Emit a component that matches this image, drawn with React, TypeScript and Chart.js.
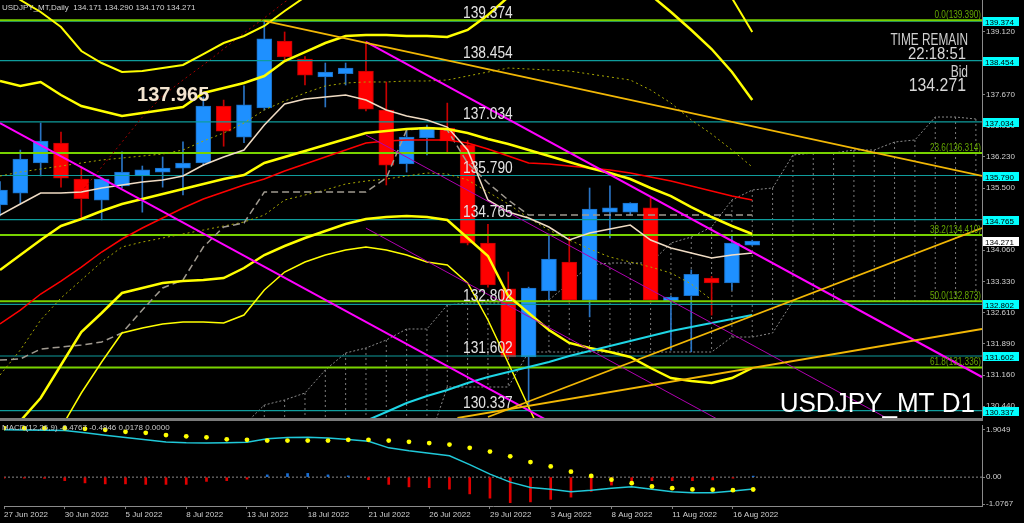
import React, { useEffect, useRef } from "react";
import { Chart, registerables } from "chart.js";

Chart.register(...registerables);

// ---------------- data ----------------
const opens = [135.11,135.38,136.08,136.54,135.71,135.22,135.55,135.78,135.87,135.96,136.08,137.40,136.68,137.36,138.91,138.49,138.08,138.15,138.21,137.31,136.06,136.66,136.89,136.50,134.22,133.16,131.58,133.11,133.78,132.90,134.94,134.94,135.04,132.88,133.00,133.41,133.30,134.171];
const highs = [135.65,136.38,137.01,136.80,135.99,135.73,136.34,136.01,136.22,136.57,137.61,137.54,137.87,139.39,139.12,138.55,138.40,138.40,138.89,137.96,136.85,136.96,137.47,136.60,134.66,133.55,133.20,134.43,134.36,135.50,135.55,135.16,135.27,133.00,133.60,133.45,134.40,134.290];
const lows = [134.85,135.15,135.78,135.52,134.80,134.76,135.50,134.94,135.52,135.34,136.03,136.47,136.55,137.31,138.45,137.89,137.38,137.89,137.29,135.57,135.87,136.27,136.34,134.18,133.20,131.55,130.35,132.90,132.85,132.51,134.34,134.87,132.85,131.74,131.70,132.55,133.13,134.170];
const closes = [135.45,136.17,136.59,135.73,135.25,135.71,135.87,135.92,135.96,136.08,137.40,136.82,137.43,138.96,138.54,138.12,138.19,138.28,137.33,136.03,136.68,136.91,136.59,134.22,133.25,131.58,133.18,133.85,132.90,135.01,135.04,135.15,132.90,132.97,133.50,133.30,134.22,134.271];

const dateTickIdx = [0,3,6,9,12,15,18,21,24,27,30,33,36];
const dateTickLabels = ["27 Jun 2022","30 Jun 2022","5 Jul 2022","8 Jul 2022","13 Jul 2022","18 Jul 2022","21 Jul 2022","26 Jul 2022","29 Jul 2022","3 Aug 2022","8 Aug 2022","11 Aug 2022","16 Aug 2022"];
const priceTicks = [139.120,138.390,137.670,136.950,136.230,135.500,134.780,134.060,133.330,132.610,131.890,131.160,130.440];

const redMA = [132.345,132.669,133.041,133.342,133.667,134.015,134.317,134.572,134.804,135.036,135.245,135.407,135.570,135.709,135.894,136.057,136.219,136.382,136.544,136.590,136.614,136.614,136.614,136.544,136.405,136.243,136.080,136.057,136.010,135.964,135.918,135.848,135.755,135.662,135.546,135.430,135.314,135.222];
const wheatMA = [134.874,135.129,135.384,135.384,135.407,135.500,135.570,135.639,135.686,135.778,136.034,136.219,136.382,136.962,137.449,137.565,137.612,137.658,137.542,137.310,137.171,137.078,136.915,136.382,135.222,134.943,134.804,134.595,134.294,134.456,134.549,134.641,134.294,134.108,133.992,133.876,133.946,133.992];
const bandMid = [133.598,133.946,134.294,134.619,134.781,134.966,135.129,135.245,135.361,135.477,135.593,135.709,135.802,136.080,136.219,136.359,136.498,136.637,136.776,136.823,136.869,136.892,136.869,136.776,136.637,136.521,136.382,136.243,136.103,135.964,135.848,135.709,135.500,135.314,135.059,134.827,134.619,134.433];
const bandUp2 = [137.983,137.867,137.960,137.658,137.403,137.287,137.171,137.240,137.310,137.379,137.704,137.820,137.936,138.098,138.447,138.655,138.864,139.027,139.050,139.050,139.027,139.027,139.004,139.166,139.514,139.932,140.3,140.6,140.8,140.8,140.6,140.3,139.978,139.584,139.166,138.725,138.191,137.542];
const bandUp3 = [140.21,139.862,139.584,139.236,138.679,138.400,138.191,138.215,138.284,138.354,138.609,138.864,139.027,139.259,139.607,139.932,140.3,140.5,140.6,140.7,140.7,140.7,140.7,140.9,141.3,141.9,142.3,142.6,142.8,142.8,142.5,142.0,141.3,140.8,140.4,140.1,139.908,139.120];
const bandLow2 = [128.9,130.094,130.628,131.393,132.159,132.600,133.064,133.180,133.296,133.342,133.366,133.412,133.644,133.946,134.154,134.340,134.502,134.665,134.781,134.827,134.850,134.827,134.758,134.340,133.922,132.994,132.600,132.206,131.905,131.788,131.695,131.579,131.324,131.092,131.022,130.976,131.092,131.324];
const bandLow3Start = 2;
const bandLow3 = [128.96,129.931,130.744,131.463,132.136,132.252,132.345,132.391,132.391,132.368,132.553,133.134,133.551,133.783,133.946,134.062,134.131,134.062,133.946,133.783,133.714,133.296,132.438,131.440,130.419,129.42];
const redDottedStart = 4;
const redDotted = [135.407,135.987,136.567,137.147,137.635,138.006,138.354,138.725,139.096,139.444,139.816,140.094];
const oliveDot1 = [135.778,135.871,135.941,136.010,136.080,136.150,136.196,136.243,136.289,136.382,136.590,136.776,137.008,137.310,137.519,137.704,137.867,137.936,137.960,137.960,137.983,137.983,138.006,138.099,138.191,138.284,138.261,138.238,138.215,138.145,138.076,138.006,137.774,137.472,137.078,136.753,136.382,135.987];
const oliveDot2 = [131.161,131.742,132.437,132.948,133.366,133.784,134.131,134.247,134.340,134.433,134.525,134.618,134.711,134.873,135.222,135.338,135.454,135.593,135.662,135.709,135.778,135.848,135.825,135.686,135.407,135.129,134.804,134.525,134.294,134.085,133.899,133.783,133.667,133.528,133.273,132.902];
const kijunDash = [131.510,131.533,131.765,131.811,131.857,131.927,132.136,132.670,133.180,133.366,134.131,134.595,134.688,135.407,135.407,135.407,135.407,135.407,135.407,135.732,136.846,136.892,136.846,136.080,135.616,135.222,134.874,134.874,134.874,134.874,134.874,134.874,134.874,134.874,134.874,134.874,134.874,134.874];
const cyanStart = 17;
const cyanLine = [130.00,130.10,130.303,130.512,130.674,130.814,130.976,131.115,131.231,131.347,131.463,131.602,131.718,131.834,131.950,132.066,132.182,132.275,132.368,132.461,132.553];
const cloudStart = 12;
const cloudSpanA = [130.0,130.465,130.582,130.744,131.278,131.672,131.788,131.974,132.229,132.229,132.785,132.832,132.832,132.832,132.832,132.902,133.296,133.714,133.760,133.760,133.760,134.224,134.363,134.595,135.222,135.454,135.500,136.266,136.312,136.312,136.382,136.382,136.567,136.614,137.147,137.147,137.101];
const cloudSpanB = [129.5,129.5,129.5,129.5,129.5,129.5,129.5,129.5,129.5,129.5,130.883,130.883,130.883,130.883,131.695,131.695,131.695,131.695,131.695,131.695,131.695,131.695,131.695,131.695,132.043,132.043,132.136,132.878,132.878,132.878,132.878,132.878,132.878,132.878,132.878,132.878,132.878];

// trend lines: [bar index, price]
const magentaUpper = [[18, 138.888], [48.3, 131.115]];
const magentaLower = [[0, 137.008], [28, 129.83]];
const purpleA = [[18, 136.73], [48.3, 128.96]];
const purpleB = [[18, 134.57], [48.3, 126.8]];
const goldDown = [[13, 139.375], [48.3, 135.78]];
const goldUp1 = [[24, 130.187], [48.3, 134.572]];
const goldUp2 = [[22.5, 130.164], [48.3, 132.229]];

const levelPrices = [139.374, 138.454, 137.034, 135.790, 134.765, 132.802, 131.602, 130.337];
const fibRatios = [0.0, 23.6, 38.2, 50.0, 61.8];
const fibPrices = [139.390, 136.314, 134.410, 132.873, 131.336];
const bidPrice = 134.271;
const highLabel = "137.965";

const macdMain = [1.89,1.88,1.875,1.867,1.77,1.67,1.58,1.49,1.40,1.37,1.36,1.37,1.39,1.53,1.58,1.59,1.56,1.50,1.43,1.17,1.05,0.95,0.853,0.50,0.12,-0.20,-0.41,-0.48,-0.58,-0.52,-0.44,-0.38,-0.48,-0.58,-0.62,-0.62,-0.55,-0.4767];
const macdSignal = [1.96,1.958,1.958,1.958,1.93,1.89,1.81,1.77,1.68,1.63,1.59,1.51,1.49,1.46,1.46,1.46,1.46,1.49,1.49,1.46,1.41,1.36,1.30,1.17,1.02,0.83,0.60,0.43,0.22,0.05,-0.10,-0.24,-0.37,-0.44,-0.49,-0.50,-0.52,-0.4946];
const macdHist = [-0.04,-0.04,-0.05,-0.14,-0.23,-0.27,-0.27,-0.29,-0.29,-0.29,-0.17,-0.14,-0.08,0.09,0.14,0.15,0.09,0.05,-0.10,-0.29,-0.39,-0.42,-0.48,-0.67,-0.84,-1.02,-0.99,-0.89,-0.80,-0.57,-0.32,-0.14,-0.14,-0.14,-0.14,-0.11,-0.04,0.0178];
const macdTicks = [1.9049, 0, -1.0767];
const macdTickLabels = ["1.9049", "0.00", "-1.0767"];

const titleText = "USDJPY_MT,Daily  134.171 134.290 134.170 134.271";
const macdTitle = "MACD(12,26,9) -0.4767 -0.4946 0.0178 0.0000";

// ---------------- helpers ----------------
const X_MAX = 48.3;
const FONT = "'Liberation Sans', Arial, sans-serif";
const AXIS_W = 42;

const series = (arr: number[], start = 0) => arr.map((v, i) => ({ x: i + start, y: v }));
const seg = (pts: number[][]) => pts.map((p) => ({ x: p[0], y: p[1] }));
const hline = (p: number) => [{ x: 0, y: p }, { x: X_MAX, y: p }];

function lineDs(data: any[], color: string, width: number, order: number, extra: any = {}) {
  return { type: "line", data, borderColor: color, borderWidth: width, pointRadius: 0, fill: false, tension: 0, order, ...extra };
}

function txt(ctx: any, s: string, x: number, y: number, size: number, color: string, align = "left", sx = 1, weight = "normal") {
  ctx.save();
  ctx.font = `${weight} ${size}px ${FONT}`;
  ctx.fillStyle = color;
  ctx.textAlign = align;
  ctx.textBaseline = "alphabetic";
  ctx.translate(x, y);
  ctx.scale(sx, 1);
  ctx.fillText(s, 0, 0);
  ctx.restore();
}

const mainOverlay = {
  id: "mainOverlay",
  afterDraw(chart: any) {
    const ctx = chart.ctx;
    const ys = chart.scales.y;
    const xs = chart.scales.x;
    const area = chart.chartArea;
    txt(ctx, titleText, 2, 10, 8, "#d4d4d4");
    levelPrices.forEach((p) => {
      const y = ys.getPixelForValue(p);
      txt(ctx, p.toFixed(3), 463, y - 3, 16, "#e4e4e4", "left", 0.86);
    });
    fibPrices.forEach((p, i) => {
      const y = ys.getPixelForValue(p);
      txt(ctx, `${fibRatios[i].toFixed(1)}(${p.toFixed(3)})`, area.right - 1, y - 2, 10, "#66a800", "right", 0.82);
    });
    levelPrices.forEach((p) => {
      const y = Math.round(ys.getPixelForValue(p));
      ctx.fillStyle = "#00ffff";
      ctx.fillRect(area.right + 1, y - 4, 36, 9);
      txt(ctx, p.toFixed(3), area.right + 3, y + 3.5, 8, "#000000");
    });
    const by = Math.round(ys.getPixelForValue(bidPrice));
    ctx.fillStyle = "#ffffff";
    ctx.fillRect(area.right + 1, by - 4, 36, 9);
    txt(ctx, bidPrice.toFixed(3), area.right + 3, by + 3.5, 8, "#000000");

    txt(ctx, "TIME REMAIN", 968, 45, 16, "#d0d0d0", "right", 0.74);
    txt(ctx, "22:18:51", 966, 59, 16, "#d8d8d8", "right", 0.93);
    txt(ctx, "Bid", 968, 77, 16, "#d0d0d0", "right", 0.75);
    txt(ctx, bidPrice.toFixed(3), 966, 91, 18, "#d8d8d8", "right", 0.88);

    txt(ctx, highLabel, xs.getPixelForValue(6.74), ys.getPixelForValue(137.52), 20, "#f3e4cf", "left", 1, "bold");
    txt(ctx, "USDJPY_MT D1", 975, 412, 28, "#ffffff", "right", 0.93);
  },
};

const macdOverlay = {
  id: "macdOverlay",
  afterDraw(chart: any) {
    txt(chart.ctx, macdTitle, 2, 9, 8, "#c8c8c8");
  },
};

function mainConfig(): any {
  const hatch: any[] = [];
  cloudSpanA.forEach((a, i) => {
    const x = i + cloudStart;
    hatch.push({ x, y: a }, { x, y: cloudSpanB[i] }, { x, y: null });
  });
  const up = opens.map((o, i) => closes[i] >= o);
  const datasets: any[] = [
    lineDs(hatch, "#7c7c7c", 1, 42, { borderDash: [2, 3], spanGaps: false }),
    lineDs(series(cloudSpanA, cloudStart), "#8a8a8a", 1, 41, { borderDash: [2, 2] }),
    lineDs(series(cloudSpanB, cloudStart), "#8a8a8a", 1, 41, { borderDash: [2, 2] }),
    {
      type: "bar", data: opens.map((o, i) => ({ x: i, y: [lows[i], highs[i]] })),
      backgroundColor: up.map((u) => (u ? "#2a74c4" : "#c80000")), borderWidth: 0,
      barThickness: 1, grouped: false, order: 40,
    },
    {
      type: "bar", data: opens.map((o, i) => ({ x: i, y: [o, closes[i]] })),
      backgroundColor: up.map((u) => (u ? "#1e90ff" : "#ff0000")),
      borderColor: up.map((u) => (u ? "#1a6fc4" : "#c00000")), borderWidth: 1, borderSkipped: false,
      barThickness: 15, grouped: false, minBarLength: 3, order: 39,
    },
    ...levelPrices.map((p) => lineDs(hline(p), "#0f9c9c", 1.2, 30)),
    ...fibPrices.map((p) => lineDs(hline(p), "#78d200", 2, 29)),
    lineDs(series(oliveDot1), "#a8a800", 1, 20, { borderDash: [2, 3] }),
    lineDs(series(oliveDot2), "#a8a800", 1, 20, { borderDash: [2, 3] }),
    lineDs(series(redDotted, redDottedStart), "#a00000", 1, 20, { borderDash: [2, 3] }),
    lineDs(series(kijunDash), "#a09a90", 1.5, 19, { borderDash: [7, 4] }),
    lineDs(series(redMA), "#ff0000", 1.5, 18),
    lineDs(series(wheatMA), "#f0dcc4", 1.5, 17),
    lineDs(series(bandUp3), "#ffff00", 2, 16),
    lineDs(series(bandLow3, bandLow3Start), "#ffff00", 1.5, 16),
    lineDs(series(bandUp2), "#ffff00", 2.5, 15),
    lineDs(series(bandMid), "#ffff00", 2.5, 15),
    lineDs(series(bandLow2), "#ffff00", 2.5, 15),
    lineDs(series(cyanLine, cyanStart), "#1ed6e6", 2, 14),
    lineDs(seg(purpleA), "#b000b0", 1, 13),
    lineDs(seg(purpleB), "#b000b0", 1, 13),
    lineDs(seg(magentaUpper), "#ff00ff", 2, 12),
    lineDs(seg(magentaLower), "#ff00ff", 2, 12),
    lineDs(seg(goldDown), "#f2b705", 1.8, 11),
    lineDs(seg(goldUp1), "#f2b705", 1.8, 11),
    lineDs(seg(goldUp2), "#f2b705", 1.8, 11),
  ];
  return {
    type: "bar",
    data: { datasets },
    options: {
      responsive: false,
      animation: false,
      devicePixelRatio: 1,
      events: [],
      layout: { padding: 0 },
      plugins: { legend: { display: false }, tooltip: { enabled: false } },
      scales: {
        x: { type: "linear", min: 0, max: X_MAX, offset: false, display: false },
        y: {
          type: "linear", position: "right", min: 130.164, max: 139.862, beginAtZero: false,
          afterBuildTicks: (s: any) => { s.ticks = priceTicks.map((v) => ({ value: v })); },
          afterFit: (s: any) => { s.width = AXIS_W; s.paddingTop = 0; s.paddingBottom = 0; },
          grid: { drawOnChartArea: false, color: "#808080", tickLength: 3 },
          border: { color: "#8a8a8a", width: 1 },
          ticks: { autoSkip: false, color: "#d0d0d0", padding: 1, font: { size: 8, family: FONT }, callback: (v: any) => Number(v).toFixed(3) },
        },
      },
    },
    plugins: [mainOverlay],
  };
}

function macdConfig(): any {
  const datasets: any[] = [
    lineDs([{ x: 0, y: 0 }, { x: X_MAX, y: 0 }], "#8a8a8a", 1, 10, { borderDash: [2, 2] }),
    {
      type: "bar", data: series(macdHist), backgroundColor: macdHist.map((v) => (v >= 0 ? "#1a6fd6" : "#e00000")),
      borderWidth: 0, barThickness: 2, grouped: false, minBarLength: 1, order: 9,
    },
    lineDs(series(macdMain), "#20c8d8", 1.5, 8),
    {
      type: "line", data: series(macdSignal), showLine: false, pointRadius: 2.4, pointBackgroundColor: "#ffff00",
      pointBorderWidth: 0, order: 7,
    },
  ];
  return {
    type: "bar",
    data: { datasets },
    options: {
      responsive: false,
      animation: false,
      devicePixelRatio: 1,
      events: [],
      layout: { padding: 0 },
      plugins: { legend: { display: false }, tooltip: { enabled: false } },
      scales: {
        x: {
          type: "linear", min: 0, max: X_MAX, offset: false, position: "bottom",
          afterBuildTicks: (s: any) => { s.ticks = dateTickIdx.map((v) => ({ value: v })); },
          afterFit: (s: any) => { s.height = 17; s.paddingLeft = 0; s.paddingRight = 0; },
          grid: { drawOnChartArea: false, color: "#808080", tickLength: 3, offset: false },
          border: { color: "#8a8a8a", width: 1 },
          ticks: {
            autoSkip: false, maxRotation: 0, minRotation: 0, align: "start", padding: 1, color: "#d0d0d0",
            font: { size: 8, family: FONT },
            callback: (v: any) => { const k = dateTickIdx.indexOf(Number(v)); return k >= 0 ? dateTickLabels[k] : ""; },
          },
        },
        y: {
          type: "linear", position: "right", min: -1.154, max: 2.084, beginAtZero: false,
          afterBuildTicks: (s: any) => { s.ticks = macdTicks.map((v) => ({ value: v })); },
          afterFit: (s: any) => { s.width = AXIS_W; s.paddingTop = 0; s.paddingBottom = 0; },
          grid: { drawOnChartArea: false, color: "#808080", tickLength: 3 },
          border: { color: "#8a8a8a", width: 1 },
          ticks: {
            autoSkip: false, color: "#d0d0d0", padding: 1, font: { size: 8, family: FONT },
            callback: (v: any) => { const k = macdTicks.indexOf(Number(v)); return k >= 0 ? macdTickLabels[k] : ""; },
          },
        },
      },
    },
    plugins: [macdOverlay],
  };
}

export default function App() {
  const mainRef = useRef<HTMLCanvasElement>(null);
  const macdRef = useRef<HTMLCanvasElement>(null);
  useEffect(() => {
    document.body.style.margin = "0";
    document.body.style.background = "#000";
    const main = new Chart(mainRef.current as HTMLCanvasElement, mainConfig());
    const macd = new Chart(macdRef.current as HTMLCanvasElement, macdConfig());
    return () => {
      main.destroy();
      macd.destroy();
    };
  }, []);
  return (
    <div style={{ position: "fixed", left: 0, top: 0, width: 1024, height: 523, background: "#000", overflow: "hidden" }}>
      <canvas ref={mainRef} width={1024} height={418} style={{ position: "absolute", left: 0, top: 0, width: 1024, height: 418 }} />
      <div style={{ position: "absolute", left: 0, top: 418, width: 983, height: 3, background: "#7a7a7a" }} />
      <canvas ref={macdRef} width={1024} height={102} style={{ position: "absolute", left: 0, top: 421, width: 1024, height: 102 }} />
    </div>
  );
}
